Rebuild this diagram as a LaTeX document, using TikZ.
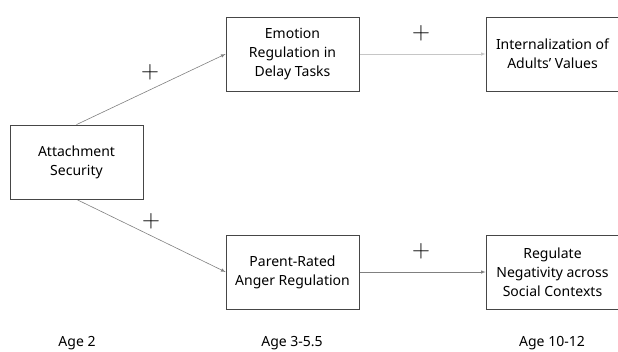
\documentclass[tikz,border=0pt]{standalone}
\usepackage{fontspec}
\setmainfont{Noto Sans}
\usetikzlibrary{arrows}
\pgfdeclarelayer{edgelayer}
\pgfdeclarelayer{nodelayer}
\pgfsetlayers{edgelayer,nodelayer,main}
\definecolor{boxline}{RGB}{70,70,70}
\tikzstyle{none}=[inner sep=0pt]
\tikzstyle{factor}=[rectangle,draw=boxline,fill=white,line width=0.8pt,minimum width=133pt,minimum height=74pt,align=center,font=\fontsize{14}{19}\selectfont]
\tikzstyle{path}=[-latex,draw=gray,line width=0.6pt]
\tikzstyle{sign}=[font=\fontsize{24}{24}\selectfont]
\tikzstyle{age}=[font=\fontsize{14}{16}\selectfont,anchor=base]

\begin{document}
\begin{tikzpicture}[x=1pt,y=-1pt]
	\useasboundingbox (0,0) rectangle (618,351);
	\begin{pgfonlayer}{nodelayer}
		\node [style=factor] (0) at (76.5, 162) {Attachment\\Security};
		\node [style=factor] (1) at (292.5, 54) {Emotion\\Regulation in\\Delay Tasks};
		\node [style=factor] (2) at (552.5, 54) {Internalization of\\Adults' Values};
		\node [style=factor] (3) at (292.5, 272) {Parent-Rated\\Anger Regulation};
		\node [style=factor] (4) at (552.5, 272) {Regulate\\Negativity across\\Social Contexts};
		\node [style=sign] (5) at (150, 72) {$+$};
		\node [style=sign] (6) at (421, 33) {$+$};
		\node [style=sign] (7) at (151, 221) {$+$};
		\node [style=sign] (8) at (421, 251) {$+$};
		\node [style=age] (9) at (77, 346) {Age 2};
		\node [style=age] (10) at (292, 346) {Age 3-5.5};
		\node [style=age] (11) at (552, 346) {Age 10-12};
	\end{pgfonlayer}
	\begin{pgfonlayer}{edgelayer}
		\draw [style=path] (0.north) to (1.west);
		\draw [style=path] (0.south) to (3.west);
		\draw [style=path, draw=gray!45] (1) to (2);
		\draw [style=path] (3) to (4);
	\end{pgfonlayer}
\end{tikzpicture}
\end{document}
